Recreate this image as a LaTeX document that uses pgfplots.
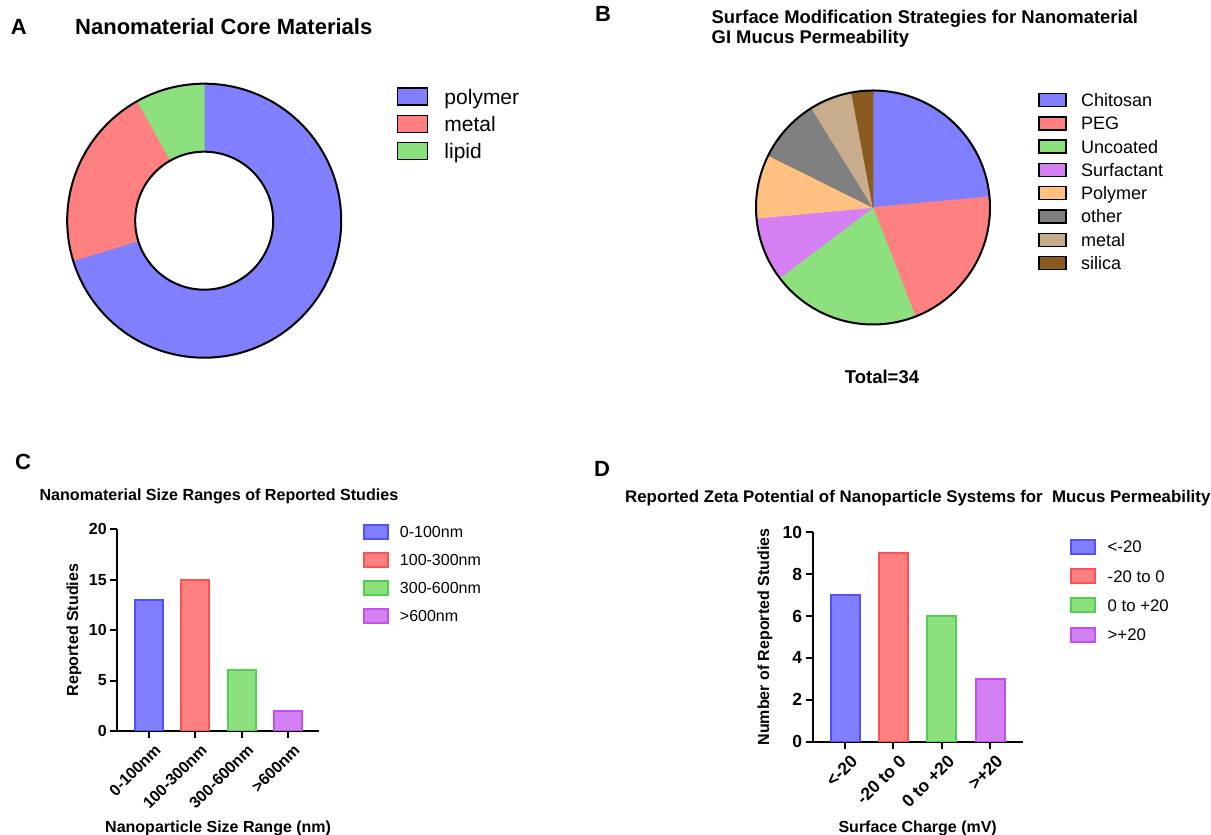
\documentclass[border=0pt]{standalone}
\usepackage{fontspec}
\setmainfont{Liberation Sans}
\usepackage{pgfplots}
\pgfplotsset{compat=1.18}

\definecolor{pblue}{HTML}{8080FF}
\definecolor{pred}{HTML}{FF8080}
\definecolor{pgreen}{HTML}{8CE07E}
\definecolor{ppurple}{HTML}{D580F2}
\definecolor{porange}{HTML}{FFC080}
\definecolor{pgray}{HTML}{808080}
\definecolor{ptan}{HTML}{C8AD8C}
\definecolor{pbrown}{HTML}{8B5A1E}
\definecolor{eblue}{HTML}{5050FF}
\definecolor{ered}{HTML}{FF5050}
\definecolor{egreen}{HTML}{50D050}
\definecolor{epurple}{HTML}{C050F0}

\newcommand{\fs}[1]{\fontsize{#1}{#1}\selectfont}

% pie data: count/colour, clockwise from 12 o'clock
\def\coredata{26/pblue,8/pred,3/pgreen}
\def\surfdata{8/pblue,7/pred,7/pgreen,3/ppurple,3/porange,3/pgray,2/ptan,1/pbrown}

% #1 radius (pt = axis units), #2 total, #3 list
\newcommand{\pieslices}[3]{%
  \pgfplotsextra{%
    \xdef\pieang{90}%
    \foreach \val/\col in #3 {%
      \pgfmathsetmacro\pieend{\pieang-360*\val/#2}%
      \pgfmathsetmacro\sx{#1*cos(\pieang)}%
      \pgfmathsetmacro\sy{#1*sin(\pieang)}%
      \filldraw[fill=\col, draw=\col, line width=0.6pt] (axis cs:0,0) -- (axis cs:\sx,\sy)
        arc[start angle=\pieang, end angle=\pieend, radius=#1pt] -- cycle;%
      \xdef\pieang{\pieend}%
    }%
  }%
}

\pgfplotsset{
  barax/.style={
    anchor=south west, scale only axis,
    axis lines=left, axis line style={-, line width=2pt},
    tick style={black, line width=2pt}, major tick length=7pt, tick align=outside,
    xtick={0,1,2,3}, ymin=0,
    /pgf/number format/assume math mode=true,
    legend cell align=left,
    legend image code/.code={\draw[##1, line width=2pt] (0pt,-7pt) rectangle (24pt,7pt);},
    xticklabel style={rotate=45, anchor=north east, inner sep=1pt, yshift=-6pt, xshift=1pt},
    label style={font=\bfseries\fs{16}},
  }
}

\begin{document}
\begin{tikzpicture}[x=1pt,y=1pt]
\useasboundingbox (0,0) rectangle (1211,835);

% ---------- panel letters and titles
\node[anchor=base west, inner sep=0, font=\bfseries\fs{22}] at (10.7,800) {A};
\node[anchor=base west, inner sep=0, font=\bfseries\fs{22}] at (75,800.8) {Nanomaterial Core Materials};
\node[anchor=base west, inner sep=0, font=\bfseries\fs{22}] at (595,813.3) {B};
\node[anchor=base west, inner sep=0, font=\bfseries\fs{18.4}] at (711.5,811.5) {Surface Modification Strategies for Nanomaterial};
\node[anchor=base west, inner sep=0, font=\bfseries\fs{18.4}] at (711.5,791.5) {GI Mucus Permeability};
\node[anchor=base, inner sep=0, font=\bfseries\fs{18.5}] at (882,451.8) {Total=34};
\node[anchor=base west, inner sep=0, font=\bfseries\fs{22}] at (15,365.7) {C};
\node[anchor=base west, inner sep=0, font=\bfseries\fs{16.1}] at (39.3,334.3) {Nanomaterial Size Ranges of Reported Studies};
\node[anchor=base west, inner sep=0, font=\bfseries\fs{22}] at (594,358.3) {D};
\node[anchor=base west, inner sep=0, font=\bfseries\fs{16.85}] at (625,332.5) {Reported Zeta Potential of Nanoparticle Systems for\ \ Mucus Permeability};

% ---------- A: donut
\begin{axis}[
  at={(67.2pt,477.3pt)}, anchor=south west,
  x=1pt, y=1pt, xmin=-137, xmax=137, ymin=-137, ymax=137,
  hide axis, clip=false,
  legend cell align=left,
  legend image code/.code={\draw[#1, draw=black, line width=1.5pt] (0pt,-8.5pt) rectangle (30pt,8.5pt);},
  legend style={at={(1.2036,0.9909)}, anchor=north west, draw=none, fill=none,
    inner sep=0pt, outer sep=0pt, row sep=6.2pt, column sep=16pt, font=\fs{21},
    nodes={inner sep=0pt, text height=18pt, text depth=3pt}},
]
\pieslices{137}{37}{\coredata}
\pgfplotsextra{%
  \draw[line width=2pt] (axis cs:0,0) circle[radius=137pt];
  \filldraw[fill=white, draw=black, line width=2pt] (axis cs:0,0) circle[radius=69pt];
}
\addlegendimage{fill=pblue}\addlegendentry{polymer}
\addlegendimage{fill=pred}\addlegendentry{metal}
\addlegendimage{fill=pgreen}\addlegendentry{lipid}
\end{axis}

% ---------- B: pie
\begin{axis}[
  at={(756pt,510.5pt)}, anchor=south west,
  x=1pt, y=1pt, xmin=-117, xmax=117, ymin=-117, ymax=117,
  hide axis, clip=false,
  legend cell align=left,
  legend image code/.code={\draw[#1, draw=black, line width=1.5pt] (0pt,-6.5pt) rectangle (27pt,6.5pt);},
  legend style={at={(1.2064,0.9981)}, anchor=north west, draw=none, fill=none,
    inner sep=0pt, outer sep=0pt, row sep=5.2pt, column sep=14.3pt, font=\fs{18},
    nodes={inner sep=0pt, text height=15.5pt, text depth=2.6pt}},
]
\pieslices{117}{34}{\surfdata}
\pgfplotsextra{%
  \draw[line width=2pt] (axis cs:0,0) circle[radius=117pt];
}
\addlegendimage{fill=pblue}\addlegendentry{Chitosan}
\addlegendimage{fill=pred}\addlegendentry{PEG}
\addlegendimage{fill=pgreen}\addlegendentry{Uncoated}
\addlegendimage{fill=ppurple}\addlegendentry{Surfactant}
\addlegendimage{fill=porange}\addlegendentry{Polymer}
\addlegendimage{fill=pgray}\addlegendentry{other}
\addlegendimage{fill=ptan}\addlegendentry{metal}
\addlegendimage{fill=pbrown}\addlegendentry{silica}
\end{axis}

% ---------- C: size ranges
\begin{axis}[
  barax,
  at={(117.3pt,104pt)}, width=201.7pt, height=201.7pt,
  xmin=-0.68, xmax=3.67, ymax=20, ytick={0,5,10,15,20},
  xticklabels={0-100nm,100-300nm,300-600nm,>600nm},
  ticklabel style={font=\bfseries\fs{16}},
  ylabel={Reported Studies},
  ylabel style={at={(axis description cs:-0.215,0.5)}, anchor=center},
  xlabel={Nanoparticle Size Range (nm)},
  xlabel style={at={(axis description cs:0.5,-0.503)}, anchor=base},
  legend style={at={(1.218,1.0278)}, anchor=north west, draw=none, fill=none,
    inner sep=0pt, outer sep=0pt, row sep=12pt, column sep=11pt, font=\fs{16},
    nodes={inner sep=0pt, text height=13.5pt, text depth=2.5pt}},
]
\addplot[ybar, bar width=28pt, fill=pblue, draw=eblue, line width=2pt, forget plot] coordinates {(0,13)};
\addplot[ybar, bar width=28pt, fill=pred, draw=ered, line width=2pt, forget plot] coordinates {(1,15)};
\addplot[ybar, bar width=28pt, fill=pgreen, draw=egreen, line width=2pt, forget plot] coordinates {(2,6)};
\addplot[ybar, bar width=28pt, fill=ppurple, draw=epurple, line width=2pt, forget plot] coordinates {(3,2)};
\addlegendimage{fill=pblue, draw=eblue}\addlegendentry{0-100nm}
\addlegendimage{fill=pred, draw=ered}\addlegendentry{100-300nm}
\addlegendimage{fill=pgreen, draw=egreen}\addlegendentry{300-600nm}
\addlegendimage{fill=ppurple, draw=epurple}\addlegendentry{>600nm}
\end{axis}

% ---------- D: zeta potential
\begin{axis}[
  barax,
  at={(812.7pt,93.3pt)}, width=210pt, height=209.4pt,
  xmin=-0.667, xmax=3.67, ymax=10, ytick={0,2,4,6,8,10},
  xticklabels={<-20,-20 to 0,0 to +20,>+20},
  ticklabel style={font=\bfseries\fs{17.5}},
  ylabel={Number of Reported Studies},
  ylabel style={at={(axis description cs:-0.227,0.5)}, anchor=center},
  xlabel={Surface Charge (mV)},
  xlabel style={at={(axis description cs:0.5,-0.434)}, anchor=base},
  legend style={at={(1.225,0.9694)}, anchor=north west, draw=none, fill=none,
    inner sep=0pt, outer sep=0pt, row sep=13.3pt, column sep=11.7pt, font=\fs{16.8},
    nodes={inner sep=0pt, text height=14pt, text depth=2pt}},
]
\addplot[ybar, bar width=29pt, fill=pblue, draw=eblue, line width=2pt, forget plot] coordinates {(0,7)};
\addplot[ybar, bar width=29pt, fill=pred, draw=ered, line width=2pt, forget plot] coordinates {(1,9)};
\addplot[ybar, bar width=29pt, fill=pgreen, draw=egreen, line width=2pt, forget plot] coordinates {(2,6)};
\addplot[ybar, bar width=29pt, fill=ppurple, draw=epurple, line width=2pt, forget plot] coordinates {(3,3)};
\addlegendimage{fill=pblue, draw=eblue}\addlegendentry{<-20}
\addlegendimage{fill=pred, draw=ered}\addlegendentry{-20 to 0}
\addlegendimage{fill=pgreen, draw=egreen}\addlegendentry{0 to +20}
\addlegendimage{fill=ppurple, draw=epurple}\addlegendentry{>+20}
\end{axis}
\end{tikzpicture}
\end{document}
